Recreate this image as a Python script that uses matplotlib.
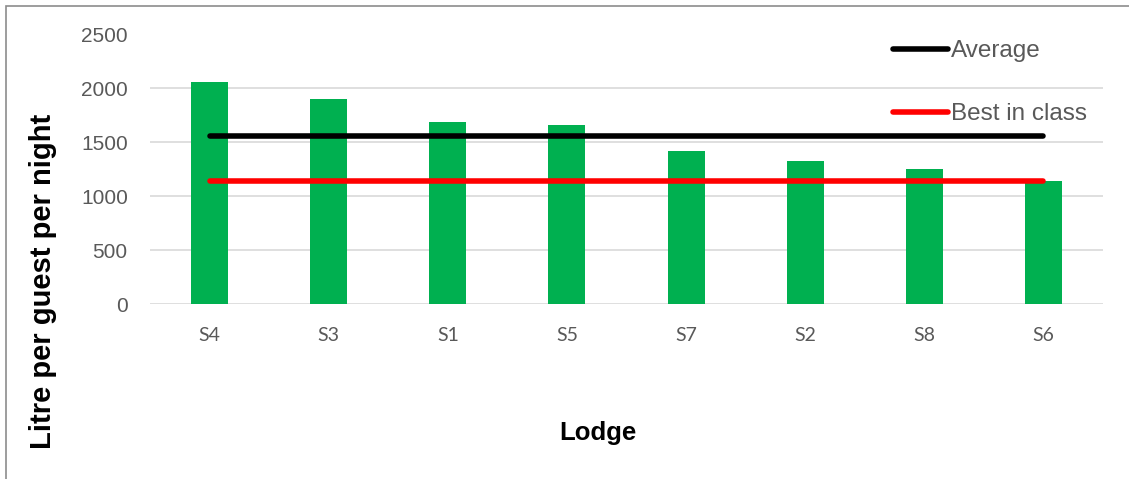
import matplotlib
matplotlib.use("Agg")
import matplotlib.pyplot as plt
from matplotlib.patches import Rectangle

lodges = ["S4", "S3", "S1", "S5", "S7", "S2", "S8", "S6"]
litres = [2057, 1903, 1690, 1662, 1423, 1325, 1254, 1138]
average = [1560] * len(lodges)
best_in_class = [1140] * len(lodges)

W, H = 1129, 479
fig = plt.figure(figsize=(W / 100, H / 100), dpi=100)
ax = fig.add_axes([150 / W, 1 - 304.3 / H, (1103 - 150) / W, (304.3 - 34.5) / H])

x = list(range(len(lodges)))
ax.bar(x, litres, width=0.31, color="#00B050", zorder=2)
ax.plot(x, average, color="black", lw=4, solid_capstyle="round", label="Average", zorder=3)
ax.plot(x, best_in_class, color="#FF0000", lw=4, solid_capstyle="round", label="Best in class", zorder=3)

ax.set_xlim(-0.5, len(lodges) - 0.5)
ax.set_ylim(0, 2500)
ax.set_yticks(range(0, 2501, 500))
ax.yaxis.grid(True, color="#d9d9d9", lw=1.2, zorder=0)
ax.set_axisbelow(True)
for s in ax.spines.values():
    s.set_visible(False)
ax.tick_params(length=0)
ax.tick_params(axis="y", pad=16, labelsize=15, labelcolor="#595959")
ax.tick_params(axis="x", pad=16, labelcolor="#595959")
ax.set_xticks(x)
ax.set_xticklabels(lodges, fontsize=14, family=["Lato", "DejaVu Sans"])
for t in ax.get_yticklabels():
    t.set_family(["Liberation Sans", "DejaVu Sans"])

fig.text(43 / W, 1 - 281 / H, "Litre per guest per night", rotation=90, ha="center", va="center",
         fontsize=21, fontweight="bold", family=["Liberation Sans", "DejaVu Sans"])
fig.text(598 / W, 1 - 433 / H, "Lodge", ha="center", va="center",
         fontsize=18.5, fontweight="bold", family=["Liberation Sans", "DejaVu Sans"])

leg = ax.legend(loc="upper left", bbox_to_anchor=(893 / W, 1 - 40 / H), bbox_transform=fig.transFigure,
                frameon=False, borderpad=0, borderaxespad=0, handlelength=2.26, handletextpad=0.12,
                labelspacing=1.7, prop={"family": ["Liberation Sans", "DejaVu Sans"], "size": 17.5})
for t in leg.get_texts():
    t.set_color("#595959")

fig.patches.append(Rectangle((6 / W, -0.1), 1.2, 1 - 5.5 / H + 0.1, transform=fig.transFigure,
                             fill=False, edgecolor="#8c8c8c", lw=1.2))

fig.savefig("out.png", dpi=100)
